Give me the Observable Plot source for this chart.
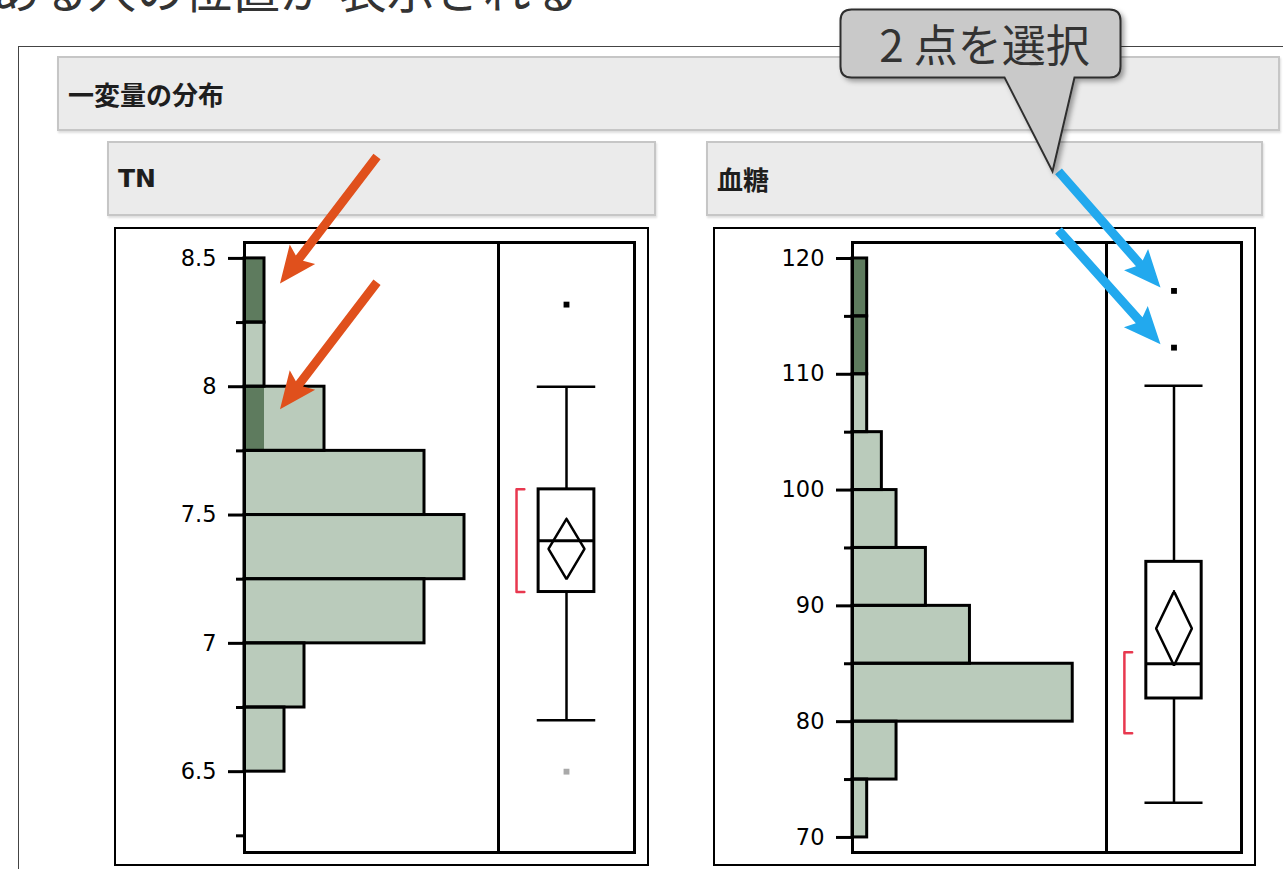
<!DOCTYPE html>
<html><head><meta charset="utf-8">
<script src="https://cdn.jsdelivr.net/npm/d3@7"></script>
<script src="https://cdn.jsdelivr.net/npm/@observablehq/plot@0.6"></script>
<style>
body{margin:0;background:#fff;}
#page{position:relative;width:1283px;height:869px;overflow:hidden;background:#fff;font-family:"Noto Sans CJK JP",sans-serif;}
.head{position:absolute;box-sizing:border-box;background:#ebebeb;border:2px solid #c6c6c6;box-shadow:1px 2px 2px rgba(0,0,0,0.13);display:flex;align-items:center;padding-left:9px;font-weight:bold;font-size:25px;color:#1e1e1e;font-family:"DejaVu Sans","Noto Sans CJK JP",sans-serif;}
.head span{font-family:"Noto Sans CJK JP",sans-serif;font-size:26px;}
.panel{position:absolute;box-sizing:border-box;border:2.5px solid #000;background:#fff;}
.plot{position:absolute;}
svg.plot text{font-size:22.5px !important;font-family:"DejaVu Sans",sans-serif !important;}
</style></head><body><div id="page"></div><script>
// ---------- data ----------
const tnBinEdges = [6.5, 6.75, 7, 7.25, 7.5, 7.75, 8, 8.25, 8.5];
const tnCounts = [2, 3, 9, 11, 9, 4, 1, 1];
const tnSelected = [0, 0, 0, 0, 0, 1, 0, 1];
const tnTicks = [6.5, 7, 7.5, 8, 8.5];
const tnMinorTicks = [6.25, 6.75, 7.25, 7.75, 8.25];
const tnQuantiles = [6.7, 7.2, 7.4, 7.6, 8.0];      // lower whisker, Q1, median, Q3, upper whisker
const tnMeanCI = [7.25, 7.368, 7.485];              // lower CI, mean, upper CI
const tnShortestHalf = [7.2, 7.6];
const tnOutliers = [8.32, 6.5];
const tnOutlierSelected = [true, false];

const bsBinEdges = [70, 75, 80, 85, 90, 95, 100, 105, 110, 115, 120];
const bsCounts = [1, 3, 15, 8, 5, 3, 2, 1, 1, 1];
const bsSelected = [0, 0, 0, 0, 0, 0, 0, 0, 1, 1];
const bsTicks = [70, 80, 90, 100, 110, 120];
const bsMinorTicks = [75, 85, 95, 105, 115];
const bsQuantiles = [73, 82, 85, 93.8, 109];
const bsMeanCI = [84.85, 88.05, 91.25];
const bsShortestHalf = [79, 86];
const bsOutliers = [117.2, 112.3];
const bsOutlierSelected = [true, true];

const titleText = "ある人の位置が 表示される";
const sectionTitle = "一変量の分布";
const panelTitles = ["TN", "血糖"];
const calloutText = "2 点を選択";

// ---------- styles ----------
const LIGHT = "#bacbbb", DARK = "#5e7b5e", RED = "#e8384f";
const ORANGE = "#e0501c", BLUE = "#22a9ee";
const PH = 639;

const page = document.getElementById("page");
function div(cls, css, text, cjk) {
  const d = document.createElement("div");
  d.className = cls; Object.assign(d.style, css);
  if (text) {
    if (cjk) { const s = document.createElement("span"); s.textContent = text; d.appendChild(s); }
    else d.textContent = text;
  }
  page.appendChild(d); return d;
}
div("", {position:"absolute", left:"18px", top:"46px", width:"1300px", height:"900px", borderLeft:"1.5px solid #444", borderTop:"1.5px solid #444"});
div("head", {left:"57px", top:"56px", width:"1223px", height:"75px"}, sectionTitle, true);
div("head", {left:"107px", top:"141px", width:"549px", height:"75px"}, panelTitles[0], false);
div("head", {left:"706px", top:"141px", width:"557px", height:"75px"}, panelTitles[1], true);
div("panel", {left:"114px", top:"227px", width:"535px", height:PH + "px"});
div("panel", {left:"713px", top:"227px", width:"543px", height:PH + "px"});

const BW = 0.41, CAP = 0.43, DW = 0.265, BRX = -0.735, BRT = -0.62;
const SW = 3;

function makePanel(cfg) {
  const bins = cfg.counts.map((c, i) => ({lo: cfg.edges[i], hi: cfg.edges[i + 1], count: c, sel: cfg.selected[i]}));
  const hist = Plot.plot({
    width: cfg.histW, height: PH,
    marginLeft: cfg.marginLeft, marginRight: 0, marginTop: 15, marginBottom: 14,
    x: {domain: [0, cfg.xMax], axis: null},
    y: {domain: cfg.yDomain, label: null},
    style: {background: "transparent", overflow: "visible", fontSize: "22.5px", fontFamily: "DejaVu Sans"},
    marks: [
      Plot.rect(bins, {x1: () => 0, x2: "count", y1: "lo", y2: "hi", fill: LIGHT}),
      Plot.rect(bins.filter(d => d.sel > 0), {x1: () => 0, x2: "sel", y1: "lo", y2: "hi", fill: DARK}),
      Plot.rect(bins, {x1: () => 0, x2: "count", y1: "lo", y2: "hi", fill: "none", stroke: "black", strokeWidth: SW}),
      Plot.axisY({ticks: cfg.minor, tickSize: 8, tickFormat: () => "", strokeWidth: SW, label: null, color: "black"}),
      Plot.axisY({ticks: cfg.ticks, tickSize: 16, tickPadding: 12, strokeWidth: SW, fontSize: 22.5, fontFamily: "DejaVu Sans", color: "black", label: null, tickFormat: d => String(d)}),
      Plot.frame({stroke: "black", strokeWidth: SW})
    ]
  });
  hist.classList.add("plot");
  Object.assign(hist.style, {left: cfg.left + "px", top: "227px"});
  page.appendChild(hist);

  const [loW, q1, med, q3, hiW] = cfg.quant;
  const [ciLo, mean, ciHi] = cfg.meanCI;
  const [shLo, shHi] = cfg.short;
  const diamond = [{x: 0, y: ciHi}, {x: DW, y: mean}, {x: 0, y: ciLo}, {x: -DW, y: mean}, {x: 0, y: ciHi}];
  const bracket = [{x: BRT, y: shHi}, {x: BRX, y: shHi}, {x: BRX, y: shLo}, {x: BRT, y: shLo}];
  const outl = cfg.outliers.map((v, i) => ({v, sel: cfg.outSel[i]}));
  const box = Plot.plot({
    width: cfg.boxW, height: PH,
    marginLeft: 0, marginRight: 15, marginTop: 15, marginBottom: 14,
    x: {domain: [-1, 1], axis: null},
    y: {domain: cfg.yDomain, axis: null},
    style: {background: "transparent", overflow: "visible"},
    marks: [
      Plot.line(bracket, {x: "x", y: "y", stroke: RED, strokeWidth: 2.5}),
      Plot.ruleX([{x: 0, y1: q3, y2: hiW}, {x: 0, y1: loW, y2: q1}], {x: "x", y1: "y1", y2: "y2", stroke: "black", strokeWidth: 2.5}),
      Plot.ruleY([{y: loW}, {y: hiW}], {y: "y", x1: () => -CAP, x2: () => CAP, stroke: "black", strokeWidth: 2.5}),
      Plot.rect([{x1: -BW, x2: BW, y1: q1, y2: q3}], {x1: "x1", x2: "x2", y1: "y1", y2: "y2", fill: "white", stroke: "black", strokeWidth: SW}),
      Plot.ruleY([{y: med}], {y: "y", x1: () => -BW, x2: () => BW, stroke: "black", strokeWidth: SW}),
      Plot.line(diamond, {x: "x", y: "y", stroke: "black", strokeWidth: 2.5, strokeLinejoin: "miter"}),
      Plot.dot(outl.filter(d => d.sel), {x: () => 0, y: "v", symbol: "square", r: 3.3, fill: "black", stroke: "none"}),
      Plot.dot(outl.filter(d => !d.sel), {x: () => 0, y: "v", symbol: "square", r: 3.3, fill: "#a9a9a9", stroke: "none"}),
      Plot.frame({stroke: "black", strokeWidth: SW})
    ]
  });
  box.classList.add("plot");
  Object.assign(box.style, {left: (cfg.left + cfg.histW) + "px", top: "227px"});
  page.appendChild(box);

  const xs = hist.scale("x"), ys = hist.scale("y"), bx = box.scale("x");
  return {
    histX: v => cfg.left + xs.apply(v),
    y: v => 227 + ys.apply(v),
    boxX: v => cfg.left + cfg.histW + bx.apply(v)
  };
}

const tn = makePanel({left: 114, histW: 384, boxW: 151, marginLeft: 130, xMax: 12.7, yDomain: [6.185, 8.562],
  edges: tnBinEdges, counts: tnCounts, selected: tnSelected, ticks: tnTicks, minor: tnMinorTicks,
  quant: tnQuantiles, meanCI: tnMeanCI, short: tnShortestHalf, outliers: tnOutliers, outSel: tnOutlierSelected});
const bs = makePanel({left: 713, histW: 393, boxW: 150, marginLeft: 139, xMax: 17.3, yDomain: [68.7, 121.38],
  edges: bsBinEdges, counts: bsCounts, selected: bsSelected, ticks: bsTicks, minor: bsMinorTicks,
  quant: bsQuantiles, meanCI: bsMeanCI, short: bsShortestHalf, outliers: bsOutliers, outSel: bsOutlierSelected});

// ---------- annotation overlay ----------
const svg = d3.select(page).append("svg")
  .attr("width", 1283).attr("height", 869)
  .style("position", "absolute").style("left", 0).style("top", 0).style("pointer-events", "none");
const defs = svg.append("defs");
const f = defs.append("filter").attr("id", "sh").attr("x", "-20%").attr("y", "-20%").attr("width", "150%").attr("height", "160%");
f.append("feDropShadow").attr("dx", 3).attr("dy", 3).attr("stdDeviation", 2.5).attr("flood-color", "#000").attr("flood-opacity", 0.35);

svg.append("text").attr("x", -8).attr("y", 8).attr("font-size", 48).attr("fill", "#333")
  .attr("font-family", "Noto Sans CJK JP").text(titleText);

function arrow(tail, tip, color) {
  const dx = tip[0] - tail[0], dy = tip[1] - tail[1], len = Math.hypot(dx, dy);
  const ux = dx / len, uy = dy / len, nx = -uy, ny = ux;
  const w = 4.5, L = 32, hw = 16, back = 5;
  const bx = tip[0] - ux * L, by = tip[1] - uy * L;
  const pts = [
    [tail[0] + nx * w, tail[1] + ny * w], [bx + nx * w, by + ny * w],
    [bx - ux * back + nx * hw, by - uy * back + ny * hw], tip,
    [bx - ux * back - nx * hw, by - uy * back - ny * hw], [bx - nx * w, by - ny * w],
    [tail[0] - nx * w, tail[1] - ny * w]];
  svg.append("polygon").attr("points", pts.map(p => p.join(",")).join(" ")).attr("fill", color);
}
// orange arrows pointing at the selected histogram bars
const oTip1 = [tn.histX(1) + 16, tn.y(8.40)], oTip2 = [tn.histX(1) + 16, tn.y(7.91)];
arrow([oTip1[0] + 97, oTip1[1] - 127], oTip1, ORANGE);
arrow([oTip2[0] + 97, oTip2[1] - 127], oTip2, ORANGE);
// blue arrows pointing at the selected outliers
const bTip1 = [bs.boxX(0) - 13, bs.y(bsOutliers[0]) - 3], bTip2 = [bs.boxX(0) - 13, bs.y(bsOutliers[1]) - 3];
const bTail1 = [bTip1[0] - 102, bTip1[1] - 116], bTail2 = [bTip2[0] - 102, bTip2[1] - 114];
arrow(bTail1, bTip1, BLUE);
arrow(bTail2, bTip2, BLUE);

// callout
const cx = bTail1[0] - 6, cy = bTail1[1];
const L0 = cx - 212, T0 = cy - 162, W0 = 280, H0 = 68, r = 11;
const pL = cx - 48, pR = cx + 22;
const path = `M${L0 + r},${T0} H${L0 + W0 - r} Q${L0 + W0},${T0} ${L0 + W0},${T0 + r} V${T0 + H0 - r} Q${L0 + W0},${T0 + H0} ${L0 + W0 - r},${T0 + H0}
 H${pR} L${cx},${cy} L${pL},${T0 + H0} H${L0 + r} Q${L0},${T0 + H0} ${L0},${T0 + H0 - r} V${T0 + r} Q${L0},${T0} ${L0 + r},${T0} Z`;
svg.append("path").attr("d", path).attr("fill", "#c9c9c9").attr("stroke", "#2e2e2e").attr("stroke-width", 2)
  .attr("stroke-linejoin", "miter").attr("filter", "url(#sh)");
svg.append("text").attr("x", L0 + 144).attr("y", T0 + 53).attr("text-anchor", "middle")
  .attr("font-size", 44).attr("fill", "#333").attr("font-family", "Noto Sans CJK JP").text(calloutText);
</script></body></html>
